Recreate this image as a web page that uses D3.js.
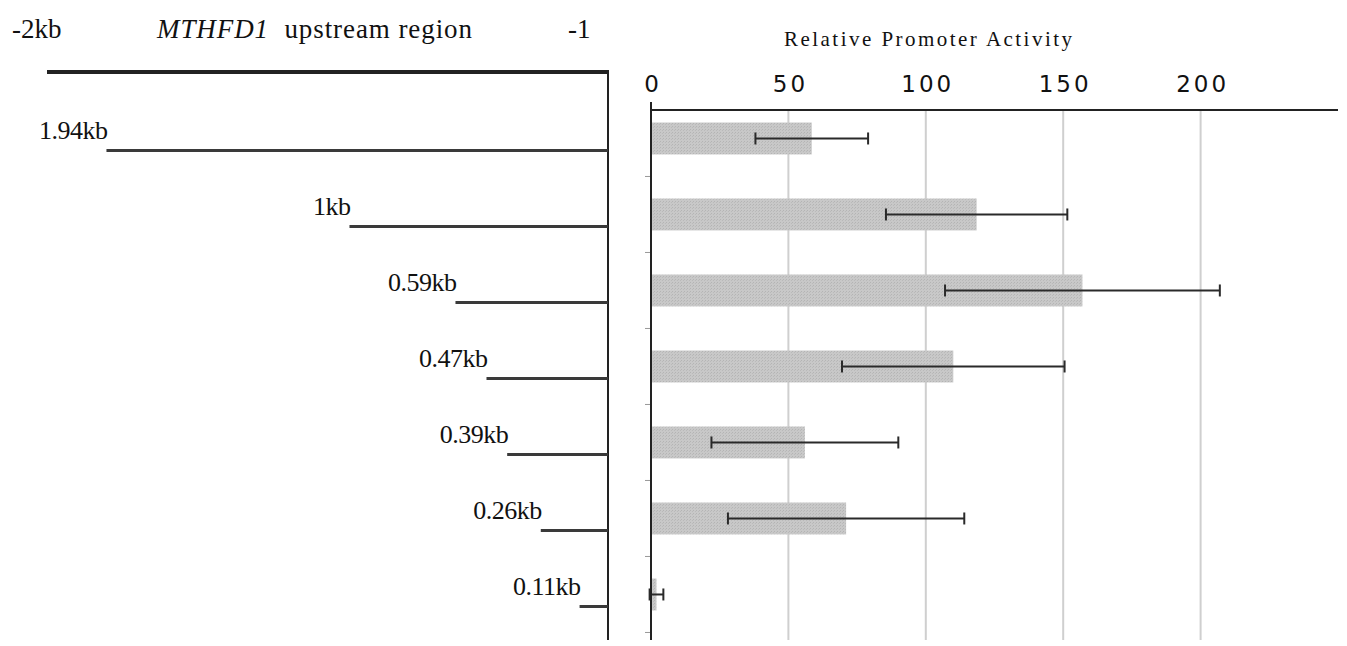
<!DOCTYPE html>
<html>
<head>
<meta charset="utf-8">
<script src="https://cdn.jsdelivr.net/npm/d3@7/dist/d3.min.js"></script>
<style>
  body { margin: 0; background: #fff; }
  svg text { fill: #111; }
</style>
</head>
<body>
<svg id="canvas" width="1347" height="646"></svg>
<script>
'use strict';

// deletion constructs (kb upstream) and their promoter activity
const constructs = ['1.94kb', '1kb', '0.59kb', '0.47kb', '0.39kb', '0.26kb', '0.11kb'];
const lengths = [1.94, 1.0, 0.59, 0.47, 0.39, 0.26, 0.11];
const activity = [58.5, 118.5, 157, 110, 56, 71, 2];
const errors = [20.5, 33, 50, 40.5, 34, 43, 2.5];
const activityTicks = [0, 50, 100, 150, 200];

const svg = d3.select('#canvas');

// dotted texture for the bars
const pat = svg.append('defs').append('pattern')
    .attr('id', 'dots')
    .attr('width', 3).attr('height', 3)
    .attr('patternUnits', 'userSpaceOnUse');
pat.append('rect').attr('width', 3).attr('height', 3).attr('fill', '#c8c8c8');
pat.append('rect').attr('x', 0).attr('y', 0).attr('width', 1).attr('height', 1).attr('fill', '#b4b4b4');
pat.append('rect').attr('x', 2).attr('y', 1).attr('width', 1).attr('height', 1).attr('fill', '#bababa');

// shared row scale
const y = d3.scaleBand()
    .domain(constructs)
    .range([104, 636])
    .paddingInner(0.58)
    .paddingOuter(0.29)
    .align(0.42);
const step = y.step();

// ---------- left: upstream region map ----------
const kb = d3.scaleLinear().domain([0, 2.17]).range([608, 47]);

const left = svg.append('g').attr('class', 'map');

left.append('text')
    .attr('x', 12).attr('y', 38)
    .attr('font-family', 'Liberation Serif').attr('font-size', 27)
    .text('-2kb');
const head = left.append('text')
    .attr('x', 157).attr('y', 38)
    .attr('font-family', 'Liberation Serif').attr('font-size', 27)
    .attr('textLength', 315)
    .attr('lengthAdjust', 'spacing');
head.append('tspan').attr('font-style', 'italic').text('MTHFD1');
head.append('tspan').text('\u00a0 upstream region');
left.append('text')
    .attr('x', 568).attr('y', 38)
    .attr('font-family', 'Liberation Serif').attr('font-size', 27)
    .text('-1');

left.append('line')
    .attr('x1', kb(2.17)).attr('x2', kb(0))
    .attr('y1', 72).attr('y2', 72)
    .attr('stroke', '#222').attr('stroke-width', 4);
left.append('line')
    .attr('x1', kb(0)).attr('x2', kb(0))
    .attr('y1', 70).attr('y2', 640)
    .attr('stroke', '#222').attr('stroke-width', 2);

const frag = left.selectAll('g.frag')
    .data(constructs)
    .enter().append('g')
    .attr('class', 'frag');

frag.append('line')
    .attr('x1', function(d, i) { return kb(lengths[i]); })
    .attr('x2', kb(0))
    .attr('y1', function(d) { return y(d) + y.bandwidth() / 2 + 12; })
    .attr('y2', function(d) { return y(d) + y.bandwidth() / 2 + 12; })
    .attr('stroke', '#3a3a3a').attr('stroke-width', 3);

frag.append('text')
    .attr('x', function(d, i) { return kb(lengths[i]) + 1; })
    .attr('y', function(d) { return y(d) + y.bandwidth() / 2 + 1; })
    .attr('text-anchor', 'end')
    .attr('font-family', 'Liberation Serif').attr('font-size', 26)
    .attr('letter-spacing', -0.5)
    .text(function(d) { return d; });

// ---------- right: relative promoter activity ----------
const x = d3.scaleLinear().domain([0, 250]).range([651, 1338]);

const right = svg.append('g').attr('class', 'activity');

right.append('text')
    .attr('x', 928).attr('y', 46)
    .attr('text-anchor', 'middle')
    .attr('font-family', 'Liberation Serif').attr('font-size', 21)
    .attr('textLength', 288)
    .text('Relative Promoter Activity');

// gridlines
right.selectAll('line.grid')
    .data(activityTicks.slice(1))
    .enter().append('line')
    .attr('class', 'grid')
    .attr('x1', x).attr('x2', x)
    .attr('y1', 110).attr('y2', 640)
    .attr('stroke', '#cfcfcf').attr('stroke-width', 2);

// tick labels
right.selectAll('text.tick')
    .data(activityTicks)
    .enter().append('text')
    .attr('class', 'tick')
    .attr('x', function(d) { return x(d) + 2; })
    .attr('y', 92)
    .attr('text-anchor', 'middle')
    .attr('font-family', 'DejaVu Sans')
    .attr('font-size', 23)
    .attr('letter-spacing', 3)
    .text(function(d) { return d; });

// bars
right.selectAll('rect.bar')
    .data(constructs)
    .enter().append('rect')
    .attr('class', 'bar')
    .attr('x', x(0))
    .attr('y', function(d) { return y(d); })
    .attr('width', function(d, i) { return x(activity[i]) - x(0); })
    .attr('height', y.bandwidth())
    .attr('fill', 'url(#dots)');

// error bars
const eb = right.selectAll('g.err')
    .data(constructs)
    .enter().append('g')
    .attr('class', 'err')
    .attr('stroke', '#2a2a2a')
    .attr('stroke-width', 2);
eb.append('line')
    .attr('x1', function(d, i) { return x(activity[i] - errors[i]); })
    .attr('x2', function(d, i) { return x(activity[i] + errors[i]); })
    .attr('y1', function(d) { return y(d) + y.bandwidth() / 2; })
    .attr('y2', function(d) { return y(d) + y.bandwidth() / 2; });
eb.selectAll('line.cap')
    .data(function(d, i) { return [[d, activity[i] - errors[i]], [d, activity[i] + errors[i]]]; })
    .enter().append('line')
    .attr('class', 'cap')
    .attr('x1', function(p) { return x(p[1]); })
    .attr('x2', function(p) { return x(p[1]); })
    .attr('y1', function(p) { return y(p[0]) + y.bandwidth() / 2 - 6; })
    .attr('y2', function(p) { return y(p[0]) + y.bandwidth() / 2 + 6; });

// category separators on the value axis
right.selectAll('line.sep')
    .data(constructs)
    .enter().append('line')
    .attr('class', 'sep')
    .attr('x1', x(0) - 6).attr('x2', x(0))
    .attr('y1', function(d) { return y(d) - y.step() * y.paddingInner() * 0.5 + step; })
    .attr('y2', function(d) { return y(d) - y.step() * y.paddingInner() * 0.5 + step; })
    .attr('stroke', '#999').attr('stroke-width', 1);

// axis lines
right.append('line')
    .attr('x1', x(0)).attr('x2', x(250))
    .attr('y1', 110).attr('y2', 110)
    .attr('stroke', '#222').attr('stroke-width', 2);
right.append('line')
    .attr('x1', x(0)).attr('x2', x(0))
    .attr('y1', 102).attr('y2', 640)
    .attr('stroke', '#222').attr('stroke-width', 2);
</script>
</body>
</html>
